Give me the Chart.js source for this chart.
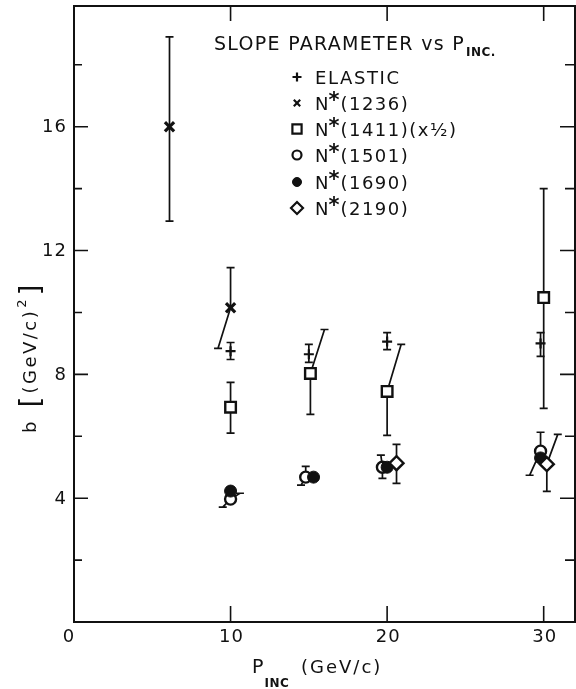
<!DOCTYPE html>
<html>
<head>
<meta charset="utf-8">
<script src="https://cdn.jsdelivr.net/npm/chart.js@4/dist/chart.umd.min.js"></script>
<style>
  html, body { margin: 0; padding: 0; background: #fff; }
  #wrap { width: 576px; height: 689px; position: relative; }
</style>
</head>
<body>
<div id="wrap"><canvas id="c" width="576" height="689"></canvas></div>
<script>
// Slope parameter b vs incident momentum, per final state.
// Each series: centre point, lower / upper error ends (an end may sit at
// a shifted x, drawn as a slanted bar), null = no bar.

const elasticX  = [10, 15, 20, 29.8];
const elasticY  = [8.75, 8.65, 9.06, 9.0];
const elasticLo = [8.48, 8.39, 8.8, 8.58];
const elasticHi = [9.03, 8.97, 9.35, 9.35];

const n1236X   = [6.1, 10];
const n1236Y   = [16.0, 10.15];
const n1236Lo  = [12.95, 8.84];
const n1236LoX = [6.1, 9.2];
const n1236Hi  = [18.9, 11.45];

const n1411X   = [10, 15.1, 20, 30];
const n1411Y   = [6.94, 8.03, 7.45, 10.48];
const n1411Lo  = [6.1, 6.71, 6.03, 6.9];
const n1411Hi  = [7.74, 9.45, 8.97, 14.0];
const n1411HiX = [10, 16.0, 20.9, 30];

const n1501X   = [10, 14.8, 19.7, 29.8];
const n1501Y   = [3.97, 4.68, 5.0, 5.52];
const n1501Lo  = [3.71, 4.42, 4.64, 4.74];
const n1501LoX = [9.5, 14.5, 19.7, 29.1];
const n1501Hi  = [4.16, 5.03, 5.39, 6.13];
const n1501HiX = [10.6, 14.8, 19.6, 29.8];

const n1690X   = [10, 15.3, 20, 29.8];
const n1690Y   = [4.23, 4.68, 5.0, 5.3];
const n1690Hi  = [4.35, null, null, null];

const n2190X   = [20.6, 30.2];
const n2190Y   = [5.13, 5.1];
const n2190Lo  = [4.48, 4.22];
const n2190Hi  = [5.74, 6.06];
const n2190HiX = [20.6, 30.9];

const xTickValues = [0, 10, 20, 30];
const yTickLabels = [4, 8, 12, 16];

const FONT = "'DejaVu Sans', sans-serif";
const INK = '#111';

function pts(xs, ys) { return xs.map((x, i) => ({ x: x, y: ys[i] })); }

function series(label, xs, ys, style, err) {
  return Object.assign({
    label: label,
    data: pts(xs, ys),
    showLine: false,
    borderColor: INK,
    errLo: err.lo || [], errHi: err.hi || [],
    errLoX: err.loX || [], errHiX: err.hiX || []
  }, style);
}

const datasets = [
  series('ELASTIC', elasticX, elasticY,
    { pointStyle: 'cross', pointRadius: 5, borderWidth: 2.2, backgroundColor: INK },
    { lo: elasticLo, hi: elasticHi }),
  series('N*(1236)', n1236X, n1236Y,
    { pointStyle: 'crossRot', pointRadius: 6.5, borderWidth: 3.2, backgroundColor: INK },
    { lo: n1236Lo, loX: n1236LoX, hi: n1236Hi }),
  series('N*(1411)(x½)', n1411X, n1411Y,
    { pointStyle: 'rect', pointRadius: 7.5, borderWidth: 2.4, backgroundColor: '#fff' },
    { lo: n1411Lo, hi: n1411Hi, hiX: n1411HiX }),
  series('N*(1501)', n1501X, n1501Y,
    { pointStyle: 'circle', pointRadius: 5.5, borderWidth: 2.4, backgroundColor: '#fff' },
    { lo: n1501Lo, loX: n1501LoX, hi: n1501Hi, hiX: n1501HiX }),
  series('N*(1690)', n1690X, n1690Y,
    { pointStyle: 'circle', pointRadius: 6, borderWidth: 1, backgroundColor: INK },
    { hi: n1690Hi }),
  series('N*(2190)', n2190X, n2190Y,
    { pointStyle: 'rectRot', pointRadius: 7, borderWidth: 2.4, backgroundColor: '#fff' },
    { lo: n2190Lo, hi: n2190Hi, hiX: n2190HiX })
];
// later datasets (open markers) drawn above filled ones where they overlap
datasets.forEach((d, i) => { d.order = datasets.length - i; });

function drawTextSpaced(ctx, txt, x, y, font, spacing) {
  ctx.font = font;
  ctx.letterSpacing = spacing + 'px';
  ctx.fillText(txt, x, y);
  const w = ctx.measureText(txt).width;
  ctx.letterSpacing = '0px';
  return x + w;
}

function marker(ctx, ds, x, y, r, bw) {
  const opts = {
    pointStyle: ds.pointStyle, radius: r, borderWidth: bw, rotation: 0
  };
  ctx.save();
  ctx.strokeStyle = INK;
  ctx.fillStyle = ds.backgroundColor;
  ctx.lineWidth = bw;
  Chart.helpers.drawPoint(ctx, opts, x, y);
  ctx.restore();
}

const errorBars = {
  id: 'errorBars',
  beforeDatasetsDraw(chart) {
    const ctx = chart.ctx, xs = chart.scales.x, ys = chart.scales.y;
    ctx.save();
    ctx.strokeStyle = INK;
    ctx.lineWidth = 1.7;
    const cap = 4;
    chart.data.datasets.forEach(ds => {
      ds.data.forEach((p, i) => {
        const px = xs.getPixelForValue(p.x), py = ys.getPixelForValue(p.y);
        [[ds.errLo[i], ds.errLoX[i]], [ds.errHi[i], ds.errHiX[i]]].forEach(([ev, ex]) => {
          if (ev === null || ev === undefined) return;
          const qx = xs.getPixelForValue(ex === undefined || ex === null ? p.x : ex);
          const qy = ys.getPixelForValue(ev);
          ctx.beginPath();
          ctx.moveTo(px, py); ctx.lineTo(qx, qy);
          ctx.moveTo(qx - cap, qy); ctx.lineTo(qx + cap, qy);
          ctx.stroke();
        });
      });
    });
    ctx.restore();
  }
};

const frameAndText = {
  id: 'frameAndText',
  afterDraw(chart) {
    const ctx = chart.ctx, a = chart.chartArea;
    const xs = chart.scales.x, ys = chart.scales.y;
    ctx.save();
    ctx.strokeStyle = INK;
    ctx.fillStyle = INK;
    // frame
    ctx.lineWidth = 2;
    ctx.strokeRect(a.left, a.top, a.right - a.left, a.bottom - a.top);
    // inward ticks
    ctx.lineWidth = 1.6;
    ctx.beginPath();
    ys.ticks.forEach(t => {
      if (t.value === 0) return;
      const y = ys.getPixelForValue(t.value);
      const major = t.value % 4 === 0;
      ctx.moveTo(a.left, y); ctx.lineTo(a.left + (major ? 14 : 8), y);
      ctx.moveTo(a.right, y); ctx.lineTo(a.right - (major ? 15 : 10), y);
    });
    xs.ticks.forEach(t => {
      if (t.value === 0) return;
      const x = xs.getPixelForValue(t.value);
      ctx.moveTo(x, a.bottom); ctx.lineTo(x, a.bottom - 16);
      ctx.moveTo(x, a.top); ctx.lineTo(x, a.top + 15);
    });
    ctx.stroke();

    // tick labels
    ctx.font = '18px ' + FONT;
    ctx.letterSpacing = '1px';
    ctx.textAlign = 'right';
    ctx.textBaseline = 'middle';
    yTickLabels.forEach(v => ctx.fillText(String(v), a.left - 7, ys.getPixelForValue(v) + 1));
    ctx.textAlign = 'center';
    ctx.textBaseline = 'alphabetic';
    xTickValues.forEach(v => {
      const off = v === 0 ? -5 : 1;
      ctx.fillText(String(v), xs.getPixelForValue(v) + off, 642);
    });
    ctx.letterSpacing = '0px';

    // legend block
    ctx.textAlign = 'left';
    ctx.textBaseline = 'alphabetic';
    let x = drawTextSpaced(ctx, 'SLOPE PARAMETER vs P', 214, 50, '19px ' + FONT, 1.3);
    drawTextSpaced(ctx, 'INC.', x + 1, 56, 'bold 12px ' + FONT, 0.5);

    const rowsY = [77, 103, 129, 155, 182, 208];
    chart.data.datasets.forEach((ds, i) => {
      const cy = rowsY[i];
      const r = ds.pointStyle === 'rectRot' ? 6 : (ds.pointStyle === 'rect' ? 6.5 : 4.5);
      marker(ctx, ds, 297, cy, r, Math.min(ds.borderWidth, 2.2));
      const base = cy + 6.5;
      if (ds.label === 'ELASTIC') {
        drawTextSpaced(ctx, 'ELASTIC', 315, base, '18px ' + FONT, 1.6);
      } else {
        const m = ds.label.match(/^N\*(.*)$/);
        let tx = drawTextSpaced(ctx, 'N', 315, base, '18px ' + FONT, 0);
        tx = drawTextSpaced(ctx, '*', tx, base - 3, 'bold 21px ' + FONT, 0);
        drawTextSpaced(ctx, m[1], tx + 1, base, '18px ' + FONT, 1.5);
      }
    });

    // x axis title
    x = drawTextSpaced(ctx, 'P', 252, 673, '19px ' + FONT, 0);
    drawTextSpaced(ctx, 'INC', x + 1, 687, 'bold 12px ' + FONT, 0.5);
    drawTextSpaced(ctx, '(GeV/c)', 301, 673, '18px ' + FONT, 2);

    // y axis title, reading upward
    ctx.translate(36, 433);
    ctx.rotate(-Math.PI / 2);
    let t = drawTextSpaced(ctx, 'b', 0, 0, '18px ' + FONT, 0);
    drawTextSpaced(ctx, '[', t + 14, 4, '28px ' + FONT, 0);
    t = drawTextSpaced(ctx, '(GeV/c)', t + 28, 0, '18px ' + FONT, 2.5);
    t = drawTextSpaced(ctx, '2', t + 1, -10, '13px ' + FONT, 0);
    drawTextSpaced(ctx, ']', t + 4, 4, '28px ' + FONT, 0);
    ctx.restore();
  }
};

new Chart(document.getElementById('c'), {
  type: 'scatter',
  data: { datasets: datasets },
  plugins: [errorBars, frameAndText],
  options: {
    responsive: false,
    animation: false,
    events: [],
    layout: { autoPadding: false, padding: { top: 6, right: 1, left: 0, bottom: 0 } },
    plugins: { legend: { display: false }, tooltip: { enabled: false } },
    scales: {
      x: {
        type: 'linear', min: 0, max: 32,
        afterFit(s) { s.height = 67; },
        grid: { display: false, drawTicks: false },
        border: { display: false },
        ticks: { stepSize: 10, includeBounds: false, display: false }
      },
      y: {
        type: 'linear', min: 0, max: 19.9,
        afterFit(s) { s.width = 74; },
        grid: { display: false, drawTicks: false },
        border: { display: false },
        ticks: { stepSize: 2, includeBounds: false, display: false }
      }
    }
  }
});
</script>
</body>
</html>
